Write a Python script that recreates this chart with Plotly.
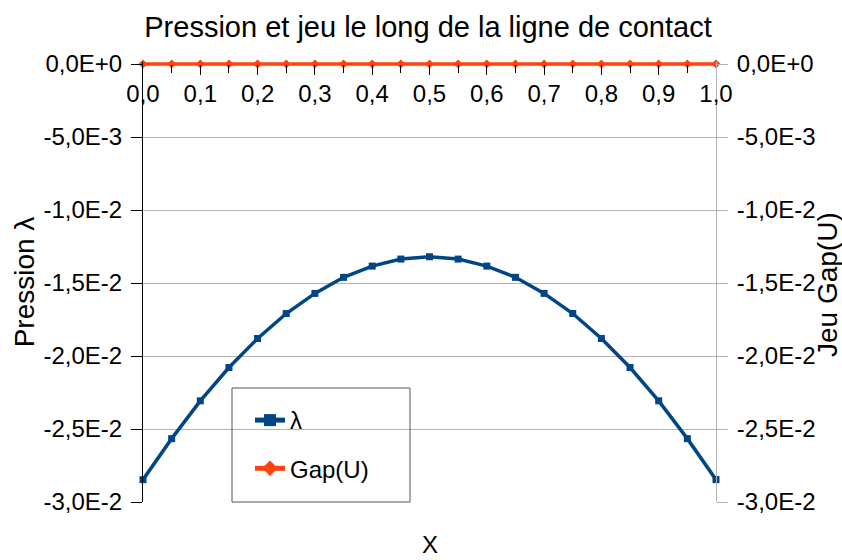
import plotly.graph_objects as go

x_vals = [0.0, 0.05, 0.1, 0.15, 0.2, 0.25, 0.3, 0.35, 0.4, 0.45, 0.5,
          0.55, 0.6, 0.65, 0.7, 0.75, 0.8, 0.85, 0.9, 0.95, 1.0]
lambda_vals = [-0.02847, -0.02566, -0.02307, -0.02079, -0.01880, -0.01709, -0.01571,
               -0.01461, -0.01384, -0.01336, -0.01320, -0.01336, -0.01384, -0.01461,
               -0.01571, -0.01709, -0.01880, -0.02079, -0.02307, -0.02566, -0.02847]
gap_vals = [0.0] * 21

y_tickvals = [0.0, -0.005, -0.01, -0.015, -0.02, -0.025, -0.03]
y_ticktext = ["0,0E+0", "-5,0E-3", "-1,0E-2", "-1,5E-2", "-2,0E-2", "-2,5E-2", "-3,0E-2"]
x_tickvals = [0.0, 0.1, 0.2, 0.3, 0.4, 0.5, 0.6, 0.7, 0.8, 0.9, 1.0]
x_ticktext = ["0,0", "0,1", "0,2", "0,3", "0,4", "0,5", "0,6", "0,7", "0,8", "0,9", "1,0"]
x_minor_ticks = [0.05, 0.15, 0.25, 0.35, 0.45, 0.55, 0.65, 0.75, 0.85, 0.95]

FONT = "Liberation Sans, Arial, sans-serif"
BLUE = "#004586"
ORANGE = "#ff420e"
GRID = "#b3b3b3"

Y_TOP = 0.00014
Y_RANGE = [-0.03, Y_TOP]

fig = go.Figure()
fig.add_trace(go.Scatter(
    x=x_vals, y=lambda_vals, name="λ", mode="lines+markers",
    line=dict(color=BLUE, width=3.5),
    marker=dict(symbol="square", size=7, color=BLUE),
    legendgroup="a", yaxis="y", cliponaxis=False,
))
fig.add_trace(go.Scatter(
    x=x_vals, y=gap_vals, name="Gap(U)", mode="lines+markers",
    line=dict(color=ORANGE, width=3.5),
    marker=dict(symbol="diamond", size=7, color=ORANGE),
    legendgroup="b", yaxis="y2", cliponaxis=False,
))

L, R, T, B = 143, 126, 62, 58
PW, PH = 842 - L - R, 560 - T - B

fig.update_layout(
    width=842, height=560,
    margin=dict(l=L, r=R, t=T, b=B),
    paper_bgcolor="white", plot_bgcolor="white",
    font=dict(family=FONT, size=24, color="black"),
    title=dict(text="Pression et jeu le long de la ligne de contact",
               x=428 / 842, xanchor="center", y=1 - 27 / 560, yanchor="middle",
               font=dict(size=29, family=FONT, color="black")),
    showlegend=True,
    legend=dict(x=(250 - L) / PW, y=(502 - 398) / PH, xanchor="left", yanchor="top",
                bgcolor="rgba(0,0,0,0)", borderwidth=0,
                font=dict(size=24, family=FONT, color="black"), tracegroupgap=14,
                traceorder="grouped", itemsizing="constant"),
    xaxis=dict(range=[0, 1], side="top", anchor="free", position=0.03 / (0.03 + Y_TOP),
               tickvals=x_tickvals, ticktext=x_ticktext,
               ticks="inside", ticklen=10, tickcolor="black", tickwidth=1,
               ticklabelposition="inside", ticklabeloverflow="allow", ticklabelstandoff=12,
               showgrid=False, zeroline=False, showline=False,
               minor=dict(tickvals=x_minor_ticks, ticks="inside", ticklen=8,
                          tickcolor="black", showgrid=False),
               tickfont=dict(size=24, family=FONT, color="black")),
    yaxis=dict(range=Y_RANGE, tickvals=y_tickvals, ticktext=y_ticktext,
               ticks="outside", ticklen=11, tickcolor="black", ticklabelstandoff=4,
               showline=True, linecolor="black", showgrid=True, gridcolor=GRID,
               zeroline=False,
               title=dict(text="Pression λ", standoff=0,
                          font=dict(size=28, family=FONT, color="black")),
               tickfont=dict(size=24, family=FONT, color="black")),
    yaxis2=dict(range=Y_RANGE, overlaying="y", side="right",
                tickvals=y_tickvals, ticktext=y_ticktext,
                ticks="outside", ticklen=11, tickcolor=GRID, ticklabelstandoff=4,
                showline=True, linecolor=GRID, showgrid=False, zeroline=False,
                tickfont=dict(size=24, family=FONT, color="black")),
    shapes=[dict(type="rect", xref="paper", yref="paper",
                 x0=(232 - L) / PW, x1=(410 - L) / PW, y0=0, y1=(502 - 388) / PH,
                 line=dict(color="#555555", width=1), fillcolor="rgba(0,0,0,0)",
                 layer="above")],
    annotations=[
        dict(text="X", x=0.5, xref="paper", y=-42 / PH, yref="paper",
             xanchor="center", yanchor="middle", showarrow=False,
             font=dict(size=24, family=FONT, color="black")),
        dict(text="Jeu Gap(U)", x=(827 - L) / PW, xref="paper", y=(502 - 285) / PH,
             yref="paper", xanchor="center", yanchor="middle", showarrow=False,
             textangle=-90, font=dict(size=28, family=FONT, color="black")),
    ],
)

fig.write_html("out.html", config={"displayModeBar": False},
               post_script="document.body.style.margin='0px';")
